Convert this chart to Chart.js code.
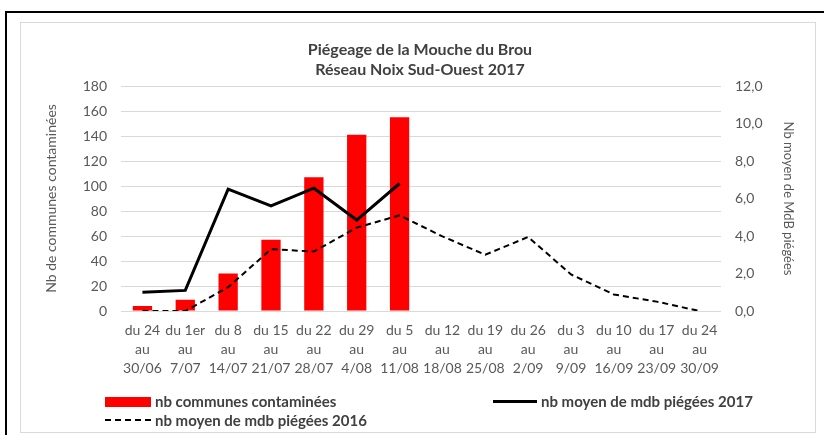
<!DOCTYPE html>
<html lang="fr">
  <head>
    <meta charset="UTF-8" />
    <title>Piégeage de la Mouche du Brou</title>
    <style>
      html, body { margin: 0; padding: 0; overflow: hidden; background: #fff; }
      body { width: 824px; height: 435px; position: relative; font-family: Lato, sans-serif; }
      #frame { position: absolute; left: 5px; top: 11px; width: 840px; height: 450px; border: 2px solid #000; }
      #inner { position: absolute; left: 20px; top: 22px; width: 794px; height: 409px; border: 1px solid #d9d9d9; }
      #wrap { position: absolute; left: 0; top: 0; width: 824px; height: 435px; }
      .lg { position: absolute; font-weight: bold; font-size: 15px; color: #404040; line-height: 18px; white-space: nowrap; }
      .sw { position: absolute; }
    </style>
    <script src="https://cdn.jsdelivr.net/npm/chart.js"></script>
  </head>
  <body>
    <div id="frame"></div>
    <div id="inner"></div>
    <div id="wrap"><canvas id="chart" width="824" height="435"></canvas></div>

    <!-- légende placée comme dans Excel -->
    <div class="sw" style="left:105px; top:397px; width:46px; height:10px; background:#ff0000;"></div>
    <div class="lg" style="left:155px; top:392px;">nb communes contaminées</div>
    <div class="sw" style="left:493px; top:400px; width:44px; height:0; border-top:3px solid #000;"></div>
    <div class="lg" style="left:541px; top:392px;">nb moyen de mdb piégées 2017</div>
    <div class="sw" style="left:105px; top:419px; width:46px; height:0; border-top:2px dashed #000;"></div>
    <div class="lg" style="left:155px; top:411px;">nb moyen de mdb piégées 2016</div>

    <script>
      // semaines de piégeage
      const weeks = [
        ["du 24", "au", "30/06"], ["du 1er", "au", "7/07"], ["du 8", "au", "14/07"],
        ["du 15", "au", "21/07"], ["du 22", "au", "28/07"], ["du 29", "au", "4/08"],
        ["du 5", "au", "11/08"], ["du 12", "au", "18/08"], ["du 19", "au", "25/08"],
        ["du 26", "au", "2/09"], ["du 3", "au", "9/09"], ["du 10", "au", "16/09"],
        ["du 17", "au", "23/09"], ["du 24", "au", "30/09"]
      ];

      // nb communes contaminées (axe gauche)
      const communes = [4, 9, 30, 57, 107, 141, 155, null, null, null, null, null, null, null];
      // nb moyen de mdb piégées (axe droit)
      const mdb2017 = [1.0, 1.1, 6.5, 5.6, 6.55, 4.85, 6.8, null, null, null, null, null, null, null];
      const mdb2016 = [0, 0, 1.27, 3.3, 3.17, 4.45, 5.1, 3.98, 3.0, 3.95, 1.95, 0.88, 0.5, 0];

      const grey = "#595959";
      Chart.defaults.font.family = "Lato, sans-serif";
      Chart.defaults.font.size = 14;
      Chart.defaults.color = grey;

      new Chart(document.getElementById("chart"), {
        type: "bar",
        data: {
          labels: weeks,
          datasets: [
            {
              type: "line",
              label: "nb moyen de mdb piégées 2017",
              data: mdb2017,
              yAxisID: "y1",
              borderColor: "#000",
              borderWidth: 3,
              pointRadius: 0,
              tension: 0,
              order: 0
            },
            {
              type: "line",
              label: "nb moyen de mdb piégées 2016",
              data: mdb2016,
              yAxisID: "y1",
              borderColor: "#000",
              borderWidth: 2,
              borderDash: [6, 4],
              pointRadius: 0,
              tension: 0,
              order: 0
            },
            {
              label: "nb communes contaminées",
              data: communes,
              yAxisID: "y",
              backgroundColor: "#ff0000",
              categoryPercentage: 1,
              barPercentage: 0.45,
              order: 1
            }
          ]
        },
        options: {
          responsive: false,
          animation: false,
          layout: { padding: { left: 40, right: 24, top: 40, bottom: 44 } },
          plugins: {
            legend: { display: false },
            tooltip: { enabled: false },
            title: {
              display: true,
              text: ["Piégeage de la Mouche du Brou", "Réseau Noix Sud-Ouest 2017"],
              color: "#404040",
              font: { size: 16, weight: "bold", lineHeight: 20 / 16 },
              padding: { top: 0, bottom: 6 }
            }
          },
          scales: {
            x: {
              grid: { display: false },
              border: { display: false },
              ticks: { maxRotation: 0, autoSkip: false, padding: 2, font: { lineHeight: 19 / 14 } },
              afterFit: (s) => { s.height = 80; }
            },
            y: {
              position: "left",
              min: 0,
              max: 180,
              ticks: { stepSize: 20, padding: 14 },
              grid: { color: "#d9d9d9", drawTicks: false },
              border: { display: false },
              title: { display: true, text: "Nb de communes contaminées", color: grey, padding: 3 },
              afterFit: (s) => { s.width = 81; }
            },
            y1: {
              position: "right",
              min: 0,
              max: 12,
              ticks: {
                stepSize: 2,
                padding: 14,
                callback: (v) => v.toFixed(1).replace(".", ",")
              },
              grid: { display: false, drawTicks: false },
              border: { display: false },
              title: { display: true, text: "Nb moyen de MdB piégées", color: grey, font: { size: 13 }, padding: 4 },
              afterFit: (s) => { s.width = 79; }
            }
          }
        }
      });
    </script>
  </body>
</html>
